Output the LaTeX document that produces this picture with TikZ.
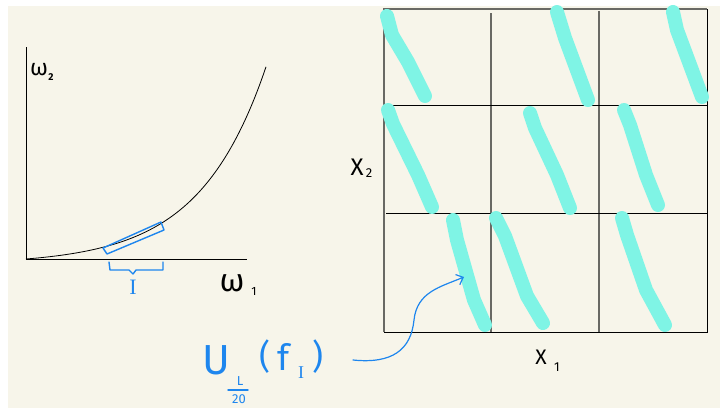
\documentclass[tikz,border=0pt]{standalone}
\usepackage{fontspec}
\setsansfont{Fira Sans}
\newfontfamily\serifI{Liberation Serif}
\usetikzlibrary{arrows.meta}
\definecolor{paper}{RGB}{247,245,234}
\definecolor{inkblue}{RGB}{30,134,238}
\definecolor{hl}{RGB}{127,244,229}
\definecolor{gline}{RGB}{105,105,100}
\tikzset{
  hlstroke/.style={hl, line width=14pt, line cap=round, line join=round},
  gridblack/.style={black, line width=1pt},
  gridgray/.style={gline, line width=1.2pt},
  axisline/.style={black, line width=1pt},
  bluepen/.style={inkblue, line width=1.4pt, line cap=round, line join=round},
  bluetext/.style={inkblue, inner sep=0pt},
  blacktext/.style={black, inner sep=0pt},
}
\begin{document}
\begin{tikzpicture}[x=1pt,y=-1pt]
\useasboundingbox (0,0) rectangle (720,408);
\fill[white] (0,0) rectangle (720,408);
\fill[paper] (8,6) rectangle (720,408);

% ---- left plot ----
\draw[axisline] (26,47) -- (26,259) -- (247,259);
\draw[black, line width=0.8pt] plot[domain=26:266, samples=90] (\x,{259-5.4*(exp(0.015*(\x-26))-1)});
\node[blacktext, font=\fontsize{23}{23}\selectfont\sffamily] (w2) at (39,70) {ω};
\node[blacktext, font=\fontsize{10}{10}\selectfont\sffamily\bfseries] (w2s) at (51,77) {2};
\node[blacktext, font=\fontsize{32}{32}\selectfont\sffamily] (w1) at (232,283) {ω};
\node[blacktext, font=\fontsize{12}{12}\selectfont\sffamily] (w1s) at (254,291) {1};

% blue box along the curve
\draw[bluepen] (103,248) -- (107,254) -- (164,230) -- (161,222) -- cycle;
% brace
\draw[bluepen] (109,262) -- (110,270) -- (129,270) -- (133,274) -- (136,270) -- (163,270) -- (163,262);
\node[bluetext, font=\fontsize{22}{22}\selectfont\serifI] (I) at (133,287) {I};

% ---- grid ----
\draw[gridgray] (384,332) -- (384,9) -- (707,9);
\draw[gridblack] (707,9) -- (707,332) -- (384,332);
\draw[gridgray] (491,13) -- (491,332);
\draw[gridgray] (599,11) -- (599,332);
\draw[gridblack] (384,105) -- (707,105);
\draw[gridblack] (386,213) -- (707,213);

% ---- highlighted strokes ----
\draw[hlstroke] (387,16) -- (392,35) -- (408,62) -- (425,96);
\draw[hlstroke] (557,12) -- (565,38) -- (588,100);
\draw[hlstroke] (673,12) -- (677,30) -- (702,97);
\draw[hlstroke] (388,110) -- (393,124) -- (418,175) -- (432,207);
\draw[hlstroke] (530,113) -- (535,128) -- (557,175) -- (570,208);
\draw[hlstroke] (624,110) -- (630,125) -- (646,175) -- (658,205);
\draw[hlstroke] (453,220) -- (457,240) -- (474,300) -- (485,325);
\draw[hlstroke] (496,218) -- (505,236) -- (527,296) -- (543,323);
\draw[hlstroke] (622,218) -- (627,235) -- (646,290) -- (665,325);

% ---- axis labels ----
\node[blacktext, font=\fontsize{24}{24}\selectfont\sffamily] (x2) at (357,167) {X};
\node[blacktext, font=\fontsize{13}{13}\selectfont\sffamily] (x2s) at (369,173) {2};
\node[blacktext, font=\fontsize{21}{21}\selectfont\sffamily] (x1) at (541,357) {X};
\node[blacktext, font=\fontsize{13}{13}\selectfont\sffamily] (x1s) at (557,367) {1};

% ---- U label ----
\node[bluetext, font=\fontsize{42}{42}\selectfont\sffamily] (U) at (216,360) {U};
\node[bluetext, font=\fontsize{13}{13}\selectfont\sffamily] (Lnum) at (240,381) {L};
\draw[bluepen] (228,390) -- (248,390);
\node[bluetext, font=\fontsize{13}{13}\selectfont\sffamily] (Lden) at (239,399) {20};
\node[bluetext, font=\fontsize{34}{34}\selectfont\sffamily] (lp) at (265,357) {(};
\node[bluetext, font=\fontsize{36}{36}\selectfont\sffamily] (f) at (284,357) {f};
\node[bluetext, font=\fontsize{18}{18}\selectfont\serifI] (fI) at (301,373) {I};
\node[bluetext, font=\fontsize{34}{34}\selectfont\sffamily] (rp) at (318,357) {)};

% arrow
\coordinate (as) at (353,360);
\coordinate (ae) at (464,277);
\draw[bluepen, line width=1.2pt, -{Straight Barb[length=6pt,width=11pt]}] (as) .. controls (392,364) and (411,350) .. (414,320) .. controls (417,292) and (440,287) .. (ae);
\end{tikzpicture}
\end{document}
